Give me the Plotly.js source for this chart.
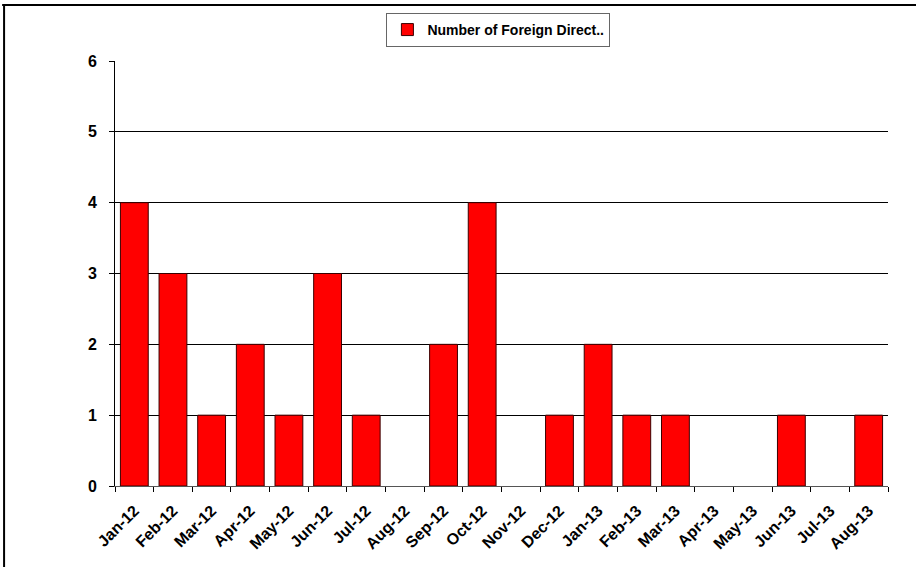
<!DOCTYPE html>
<html>
<head>
<meta charset="utf-8">
<script src="https://cdn.plot.ly/plotly-3.0.1.min.js"></script>
<style>
html,body{margin:0;padding:0;background:#fff;}
#chart{width:916px;height:567px;}
</style>
</head>
<body>
<div id="chart"></div>
<script>
const months = ["Jan-12","Feb-12","Mar-12","Apr-12","May-12","Jun-12","Jul-12","Aug-12","Sep-12","Oct-12","Nov-12","Dec-12","Jan-13","Feb-13","Mar-13","Apr-13","May-13","Jun-13","Jul-13","Aug-13"];
const fdiCounts = [4,3,1,2,1,3,1,0,2,4,0,1,2,1,1,0,0,1,0,1];
const seriesName = "Number of Foreign Direct..";
const yTicks = [0,1,2,3,4,5,6];

const font = "Liberation Sans, Arial, sans-serif";

const trace = {
  type: "bar",
  x: months,
  y: fdiCounts,
  name: seriesName,
  showlegend: true,
  marker: {
    color: "#FF0000",
    line: {color: "#3a0000", width: fdiCounts.map(v => v === 0 ? 0 : 1)}
  },
  hoverinfo: "x+y"
};

const layout = {
  width: 916,
  height: 567,
  margin: {l: 115, r: 28, t: 61, b: 81},
  paper_bgcolor: "#fff",
  plot_bgcolor: "#fff",
  bargap: 0.28,
  font: {family: font, color: "#000"},
  xaxis: {
    type: "category",
    tickangle: -45,
    tickfont: {family: font, size: 16, weight: "bold", color: "#000"},
    ticks: "outside",
    ticklen: 5,
    tickcolor: "#000",
    tickson: "boundaries",
    showline: true,
    linecolor: "#555",
    linewidth: 1,
    showgrid: false,
    zeroline: false,
    ticklabelstandoff: 8,
    range: [-0.5, 19.5]
  },
  yaxis: {
    range: [0, 6],
    tickvals: yTicks,
    ticktext: yTicks.map(String),
    tickfont: {family: font, size: 16, weight: "bold", color: "#000"},
    ticks: "outside",
    ticklen: 5,
    tickcolor: "#000",
    showline: true,
    linecolor: "#000",
    linewidth: 1,
    showgrid: true,
    gridcolor: "#000",
    gridwidth: 1,
    zeroline: false,
    ticklabelstandoff: 9
  },
  legend: {
    orientation: "h",
    x: 0.496,
    xanchor: "center",
    y: 1.113,
    yanchor: "top",
    bgcolor: "#fff",
    bordercolor: "#666",
    borderwidth: 1,
    font: {family: font, size: 14, weight: "bold", color: "#000"},
    itemwidth: 30
  },
  shapes: [
    {type: "line", xref: "paper", yref: "paper", x0: -0.146, x1: 1.05, y0: 1.1315, y1: 1.1315, line: {color: "#000", width: 2}},
    {type: "line", xref: "paper", yref: "paper", x0: -0.1435, x1: -0.1435, y0: 1.1315, y1: -0.2, line: {color: "#000", width: 2}}
  ]
};

Plotly.newPlot("chart", [trace], layout, {staticPlot: true, displayModeBar: false});
</script>
</body>
</html>
